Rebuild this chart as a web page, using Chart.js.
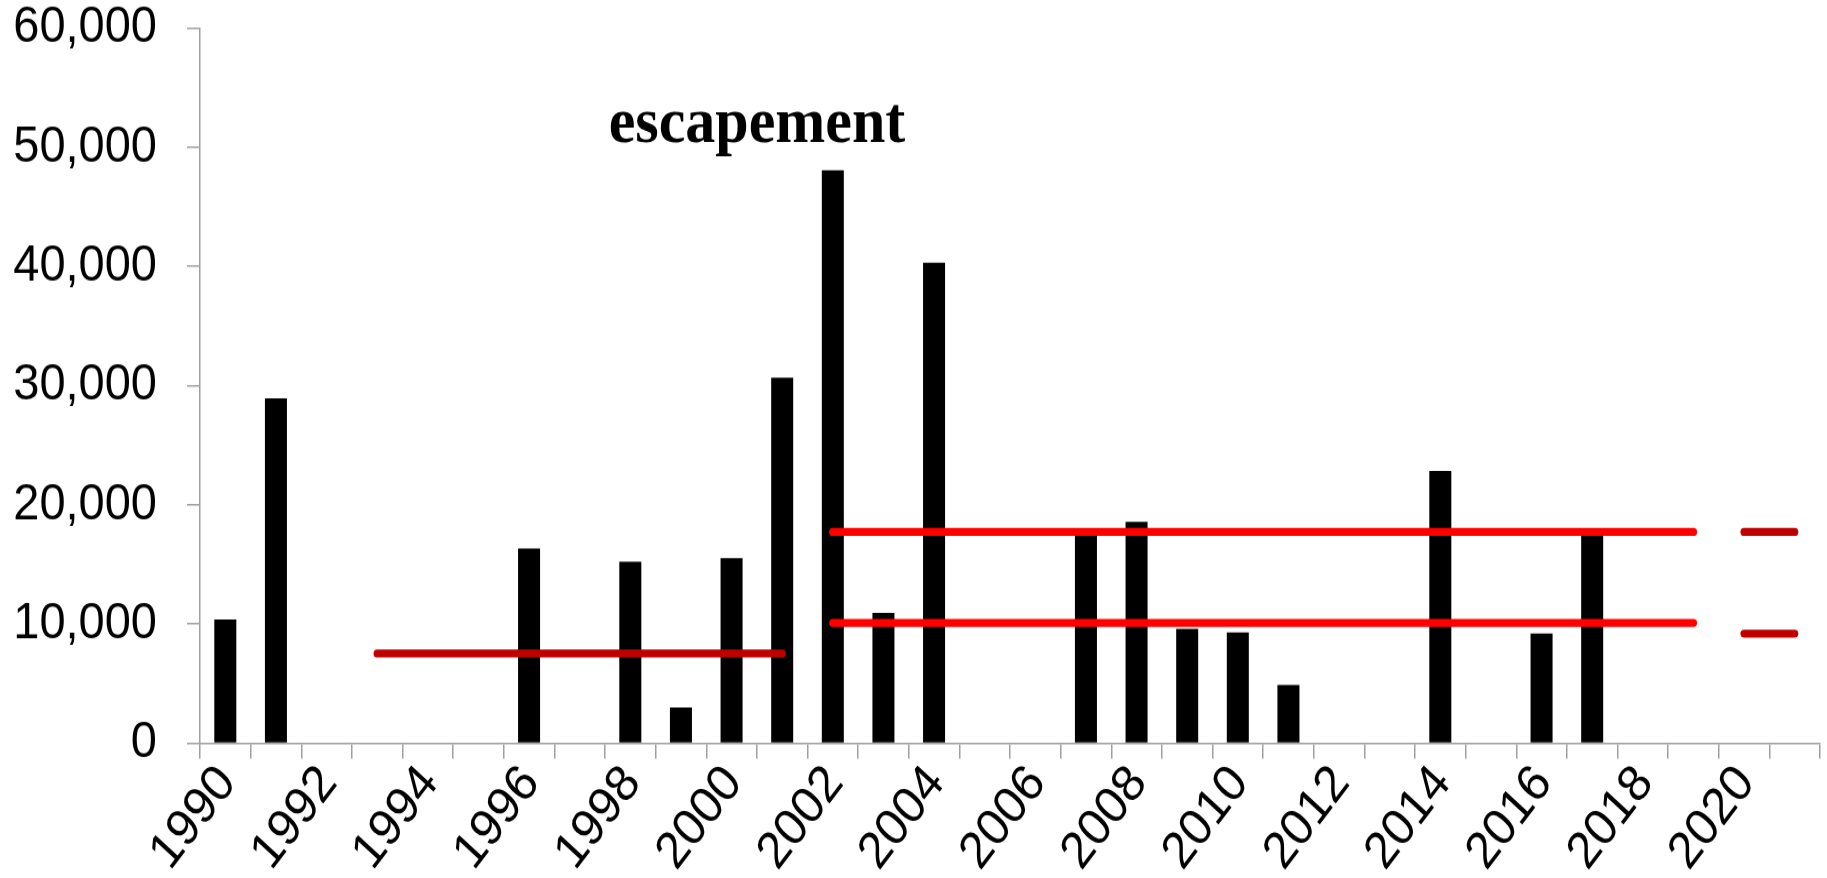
<!DOCTYPE html>
<html>
<head>
<meta charset="utf-8">
<script src="https://cdn.jsdelivr.net/npm/chart.js@4/dist/chart.umd.min.js"></script>
<style>
html{margin:0;padding:0;background:#fff;overflow:hidden;}
body{margin:0;padding:0;background:#fff;height:878px;}
#wrap{width:1827px;height:798px;transform:scaleY(1.1003);transform-origin:0 0;}
canvas{display:block;}
</style>
</head>
<body>
<div id="wrap"><canvas id="c" width="1827" height="798"></canvas></div>
<script>
const years = ['1990','1991','1992','1993','1994','1995','1996','1997','1998','1999','2000','2001','2002','2003','2004','2005','2006','2007','2008','2009','2010','2011','2012','2013','2014','2015','2016','2017','2018','2019','2020','2021'];
const tickYears = ['1990','1992','1994','1996','1998','2000','2002','2004','2006','2008','2010','2012','2014','2016','2018','2020'];
const escapement = [10380,28950,null,null,null,null,16340,null,15220,3000,15520,30660,48060,10950,40310,null,null,17600,18570,9590,9290,4900,null,null,22850,null,9200,17600,null,null,null,null];
const oldGoal = [null,null,null,7530,7530,7530,7530,7530,7530,7530,7530,7530,null,null,null,null,null,null,null,null,null,null,null,null,null,null,null,null,null,null,null,null];
const goalUpper = [null,null,null,null,null,null,null,null,null,null,null,null,17730,17730,17730,17730,17730,17730,17730,17730,17730,17730,17730,17730,17730,17730,17730,17730,17730,17730,null,null];
const goalLower = [null,null,null,null,null,null,null,null,null,null,null,null,10100,10100,10100,10100,10100,10100,10100,10100,10100,10100,10100,10100,10100,10100,10100,10100,10100,10100,null,null];
const newGoalUpper = [null,null,null,null,null,null,null,null,null,null,null,null,null,null,null,null,null,null,null,null,null,null,null,null,null,null,null,null,null,null,17730,17730];
const newGoalLower = [null,null,null,null,null,null,null,null,null,null,null,null,null,null,null,null,null,null,null,null,null,null,null,null,null,null,null,null,null,null,9200,9200];
const yTicks = [0,10000,20000,30000,40000,50000,60000];
const annotationText = 'escapement';

const gray = '#a0a0a0';
function lineDs(data, color){
  return {type:'line', data:data, borderColor:color, backgroundColor:color, borderWidth:7.3,
    borderCapStyle:'round', pointRadius:0, pointHoverRadius:0, spanGaps:false, order:1, tension:0};
}
const textPlugin = {
  id:'txt',
  afterDraw(chart){
    const ctx = chart.ctx;
    ctx.save();
    ctx.fillStyle = '#000';
    ctx.font = 'bold 60px "Liberation Serif", "Times New Roman", serif';
    ctx.textAlign = 'center';
    ctx.textBaseline = 'alphabetic';
    ctx.fillText(annotationText, 757, 129);
    ctx.restore();
  }
};
const FONT = '"Liberation Sans", Arial, sans-serif';
new Chart(document.getElementById('c'), {
  data:{
    labels: years,
    datasets:[
      {type:'bar', data:escapement, backgroundColor:'#000', borderWidth:0, barPercentage:0.435, categoryPercentage:1, order:2},
      lineDs(oldGoal,'#C00000'),
      lineDs(goalUpper,'#FF0000'),
      lineDs(goalLower,'#FF0000'),
      lineDs(newGoalUpper,'#C00000'),
      lineDs(newGoalLower,'#C00000')
    ]
  },
  options:{
    responsive:false, animation:false, devicePixelRatio:1,
    layout:{padding:{top:25.5,right:7,left:0,bottom:0}},
    plugins:{legend:{display:false}, tooltip:{enabled:false}},
    scales:{
      x:{
        offset:true,
        grid:{offset:true, drawOnChartArea:false, drawTicks:true, tickLength:14, color:gray, lineWidth:1.5},
        border:{display:true, color:gray, width:1.5},
        ticks:{autoSkip:false, maxRotation:50, minRotation:50, padding:-4, labelOffset:2, color:'#000',
          font:{family:FONT, size:47},
          callback:function(v,i){ const l = years[i]; return tickYears.includes(l) ? l : ''; }},
        afterFit(s){ s.height = 122.5; s.paddingLeft = 0; s.paddingRight = 0; }
      },
      y:{
        min:0, max:60000,
        grid:{drawOnChartArea:false, drawTicks:true, tickLength:13, color:gray, lineWidth:1.5},
        border:{display:true, color:gray, width:1.5},
        afterBuildTicks(s){ s.ticks = yTicks.map(v=>({value:v})); },
        ticks:{padding:30, color:'#000', font:{family:FONT, size:47},
          callback:function(v){ return Number(v).toLocaleString('en-US'); }},
        afterFit(s){ s.width = 200; s.paddingTop = 0; s.paddingBottom = 0; }
      }
    }
  },
  plugins:[textPlugin]
});
</script>
</body>
</html>
